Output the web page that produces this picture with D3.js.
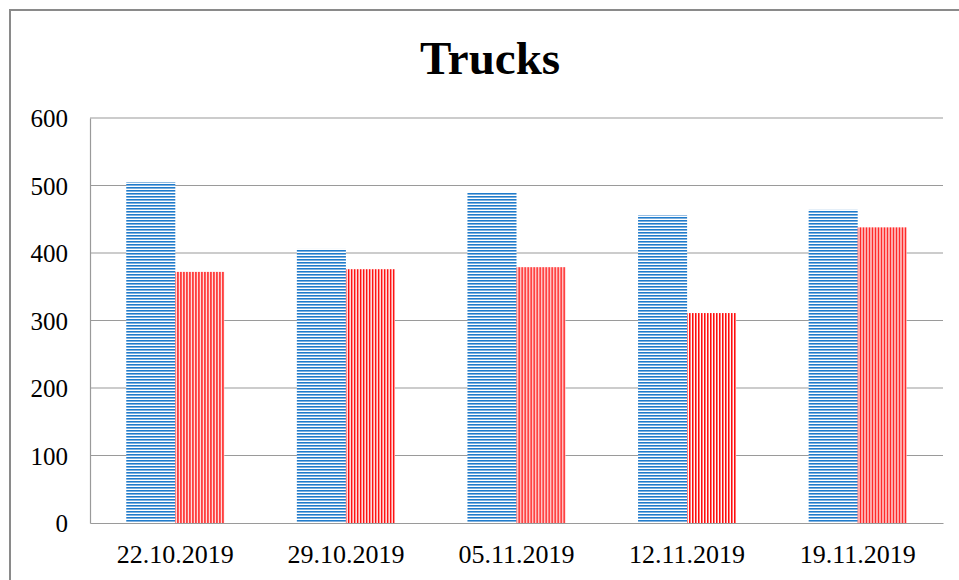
<!DOCTYPE html>
<html>
<head>
<meta charset="utf-8">
<script src="https://cdn.jsdelivr.net/npm/d3@7"></script>
<style>
  body { margin: 0; background: #fff; }
  svg { display: block; }
  .tick text { font-family: "Liberation Serif", "Times New Roman", serif; fill: #000; }
</style>
</head>
<body>
<div id="chart"></div>
<script>
var svgWidth = 959;
var svgHeight = 580;

var margin = { top: 118, right: 16, bottom: 57, left: 90 };

var width = svgWidth - margin.left - margin.right;
var height = svgHeight - margin.top - margin.bottom;

// chart data
var dates = ["22.10.2019", "29.10.2019", "05.11.2019", "12.11.2019", "19.11.2019"];
var seriesA = [505, 406, 490, 456, 464];
var seriesB = [372, 376, 379, 311, 438];
var yTicks = [0, 100, 200, 300, 400, 500, 600];

var svg = d3.select("#chart")
  .append("svg")
  .attr("width", svgWidth)
  .attr("height", svgHeight);

// striped fills
var defs = svg.append("defs");

var pBlue = defs.append("pattern")
  .attr("id", "blueStripes")
  .attr("patternUnits", "userSpaceOnUse")
  .attr("width", 6).attr("height", 3);
pBlue.append("rect").attr("width", 6).attr("height", 3).attr("fill", "#ffffff");
pBlue.append("rect").attr("y", 0).attr("width", 6).attr("height", 1).attr("fill", "#1f7ccc");
pBlue.append("rect").attr("y", 1).attr("width", 6).attr("height", 1).attr("fill", "#7fb0dd");

var pRed = defs.append("pattern")
  .attr("id", "redStripes")
  .attr("patternUnits", "userSpaceOnUse")
  .attr("width", 3).attr("height", 6);
pRed.append("rect").attr("width", 3).attr("height", 6).attr("fill", "#ffffff");
pRed.append("rect").attr("x", 0).attr("width", 1).attr("height", 6).attr("fill", "#ff0000");
pRed.append("rect").attr("x", 1).attr("width", 1).attr("height", 6).attr("fill", "#ff7a7a");

// outer frame
svg.append("rect")
  .attr("x", 10).attr("y", 10)
  .attr("width", 1000).attr("height", 1000)
  .attr("fill", "none")
  .attr("stroke", "#8a8a8a")
  .attr("stroke-width", 2);

// title
svg.append("text")
  .attr("x", 490)
  .attr("y", 74)
  .attr("text-anchor", "middle")
  .attr("font-family", "Liberation Serif, Times New Roman, serif")
  .attr("font-weight", "bold")
  .attr("font-size", 47)
  .text("Trucks");

var chartGroup = svg.append("g")
  .attr("transform", `translate(${margin.left}, ${margin.top})`);

var xScale = d3.scaleBand()
  .domain(dates)
  .range([0, width])
  .paddingInner(0.425)
  .paddingOuter(0.2125);

var xSub = d3.scaleBand()
  .domain(["a", "b"])
  .range([0, xScale.bandwidth()]);

var yScale = d3.scaleLinear()
  .domain([0, 600])
  .range([height, 0]);

// gridlines
chartGroup.append("g")
  .selectAll("line")
  .data(yTicks.filter(d => d > 0))
  .enter()
  .append("line")
  .attr("x1", 0).attr("x2", width)
  .attr("y1", d => yScale(d)).attr("y2", d => yScale(d))
  .attr("stroke", "#9a9a9a")
  .attr("stroke-width", 1.2);

// y axis
var leftAxis = d3.axisLeft(yScale).tickValues(yTicks).tickSize(0).tickPadding(22);
var yAxisG = chartGroup.append("g").call(leftAxis);
yAxisG.select(".domain").attr("stroke", "#9a9a9a").attr("stroke-width", 1.2);
yAxisG.selectAll("text").attr("font-size", 25).attr("dy", "0.35em");

// bars
var groups = chartGroup.selectAll(".grp")
  .data(dates)
  .enter()
  .append("g")
  .attr("transform", d => `translate(${xScale(d)}, 0)`);

groups.append("rect")
  .attr("x", xSub("a"))
  .attr("y", (d, i) => yScale(seriesA[i]))
  .attr("width", xSub.bandwidth())
  .attr("height", (d, i) => height - yScale(seriesA[i]))
  .attr("fill", "url(#blueStripes)");

groups.append("rect")
  .attr("x", xSub("b"))
  .attr("y", (d, i) => yScale(seriesB[i]))
  .attr("width", xSub.bandwidth())
  .attr("height", (d, i) => height - yScale(seriesB[i]))
  .attr("fill", "url(#redStripes)");

// x axis
var bottomAxis = d3.axisBottom(xScale).tickSize(0).tickPadding(22);
var xAxisG = chartGroup.append("g")
  .attr("transform", `translate(0, ${height})`)
  .call(bottomAxis);
xAxisG.select(".domain").attr("stroke", "#9a9a9a").attr("stroke-width", 1.2);
xAxisG.selectAll("text").attr("font-size", 26);
</script>
</body>
</html>
